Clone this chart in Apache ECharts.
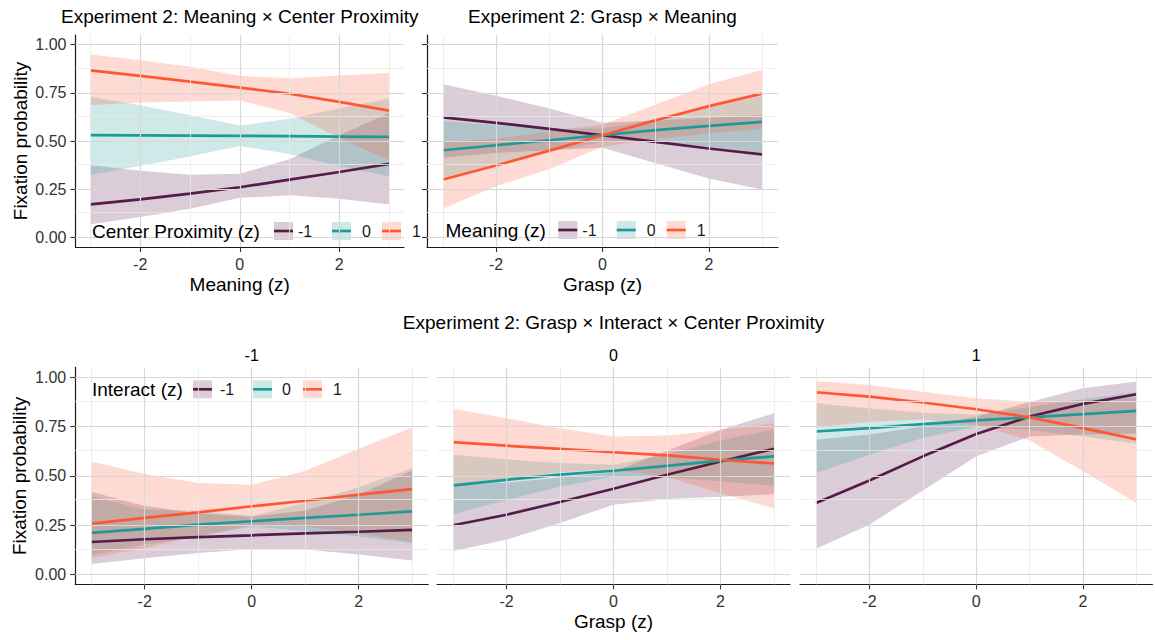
<!DOCTYPE html>
<html><head><meta charset="utf-8">
<script src="https://cdn.jsdelivr.net/npm/echarts@6/dist/echarts.min.js"></script>
<style>html,body{margin:0;padding:0;background:#fff}#chart{width:1155px;height:640px}</style>
</head><body><div id="chart"></div>
<script>
// ---------- categories / ticks ----------
const xs = [-3, -2, -1, 0, 1, 2, 3];
const xTicks = [-2, 0, 2];
const xMinor = [-3, -1, 1, 3];
const yTicks = [0, 0.25, 0.5, 0.75, 1];
const yMinor = [0.125, 0.375, 0.625, 0.875];
const levels = ['-1', '0', '1'];
const levelLabels = ['-1', '0', '1'];

// ---------- text ----------
const panelTitles = ['Experiment 2: Meaning × Center Proximity', 'Experiment 2: Grasp × Meaning', 'Experiment 2: Grasp × Interact × Center Proximity'];
const stripLabels = ['-1', '0', '1'];
const legendTitles = ['Center Proximity (z)', 'Meaning (z)', 'Interact (z)'];
const xNames = ['Meaning (z)', 'Grasp (z)', 'Grasp (z)'];
const yName = 'Fixation probability';

// ---------- panel 1: Meaning x Center Proximity (groups: Center Proximity -1, 0, 1) ----------
const p1FitNeg = [0.171, 0.197, 0.227, 0.260, 0.300, 0.339, 0.381];
const p1LoNeg  = [0.068, 0.106, 0.149, 0.205, 0.218, 0.200, 0.171];
const p1HiNeg  = [0.374, 0.345, 0.325, 0.330, 0.405, 0.530, 0.645];
const p1Fit0   = [0.530, 0.529, 0.528, 0.527, 0.525, 0.523, 0.521];
const p1Lo0    = [0.325, 0.370, 0.420, 0.474, 0.432, 0.370, 0.317];
const p1Hi0    = [0.729, 0.686, 0.634, 0.580, 0.616, 0.668, 0.720];
const p1FitPos = [0.866, 0.838, 0.808, 0.777, 0.745, 0.703, 0.658];
const p1LoPos  = [0.685, 0.700, 0.705, 0.710, 0.645, 0.515, 0.400];
const p1HiPos  = [0.949, 0.919, 0.885, 0.838, 0.825, 0.840, 0.853];

// ---------- panel 2: Grasp x Meaning (groups: Meaning -1, 0, 1) ----------
const p2FitNeg = [0.623, 0.594, 0.563, 0.530, 0.495, 0.461, 0.431];
const p2LoNeg  = [0.413, 0.438, 0.452, 0.465, 0.384, 0.305, 0.248];
const p2HiNeg  = [0.795, 0.735, 0.668, 0.595, 0.606, 0.620, 0.634];
const p2Fit0   = [0.452, 0.478, 0.504, 0.530, 0.556, 0.578, 0.599];
const p2Lo0    = [0.310, 0.376, 0.445, 0.495, 0.497, 0.472, 0.440];
const p2Hi0    = [0.604, 0.582, 0.563, 0.565, 0.614, 0.679, 0.735];
const p2FitPos = [0.300, 0.373, 0.450, 0.530, 0.608, 0.681, 0.746];
const p2LoPos  = [0.149, 0.265, 0.354, 0.470, 0.510, 0.540, 0.562];
const p2HiPos  = [0.495, 0.510, 0.549, 0.585, 0.690, 0.795, 0.870];

// ---------- panel 3: Center Proximity = -1 (groups: Interact -1, 0, 1) ----------
const p3FitNeg = [0.165, 0.179, 0.190, 0.199, 0.209, 0.217, 0.226];
const p3LoNeg  = [0.054, 0.082, 0.109, 0.130, 0.127, 0.102, 0.071];
const p3HiNeg  = [0.420, 0.348, 0.310, 0.293, 0.325, 0.405, 0.527];
const p3Fit0   = [0.211, 0.231, 0.253, 0.270, 0.287, 0.303, 0.320];
const p3Lo0    = [0.098, 0.152, 0.193, 0.244, 0.221, 0.193, 0.160];
const p3Hi0    = [0.396, 0.330, 0.323, 0.297, 0.363, 0.442, 0.540];
const p3FitPos = [0.258, 0.287, 0.315, 0.346, 0.374, 0.405, 0.433];
const p3LoPos  = [0.083, 0.135, 0.196, 0.250, 0.244, 0.209, 0.165];
const p3HiPos  = [0.573, 0.509, 0.464, 0.455, 0.526, 0.637, 0.747];

// ---------- panel 4: Center Proximity = 0 ----------
const p4FitNeg = [0.250, 0.303, 0.368, 0.435, 0.506, 0.573, 0.637];
const p4LoNeg  = [0.118, 0.177, 0.261, 0.354, 0.383, 0.394, 0.407];
const p4HiNeg  = [0.453, 0.466, 0.490, 0.520, 0.628, 0.733, 0.818];
const p4Fit0   = [0.452, 0.480, 0.506, 0.526, 0.551, 0.577, 0.599];
const p4Lo0    = [0.306, 0.377, 0.446, 0.496, 0.492, 0.473, 0.450];
const p4Hi0    = [0.607, 0.584, 0.566, 0.556, 0.609, 0.679, 0.735];
const p4FitPos = [0.671, 0.653, 0.637, 0.620, 0.604, 0.582, 0.563];
const p4LoPos  = [0.443, 0.482, 0.518, 0.533, 0.493, 0.413, 0.335];
const p4HiPos  = [0.840, 0.792, 0.742, 0.700, 0.705, 0.733, 0.767];

// ---------- panel 5: Center Proximity = 1 ----------
const p5FitNeg = [0.363, 0.477, 0.599, 0.712, 0.801, 0.865, 0.914];
const p5LoNeg  = [0.131, 0.253, 0.426, 0.599, 0.700, 0.710, 0.715];
const p5HiNeg  = [0.683, 0.710, 0.750, 0.800, 0.875, 0.944, 0.978];
const p5Fit0   = [0.725, 0.742, 0.762, 0.781, 0.797, 0.813, 0.830];
const p5Lo0    = [0.515, 0.607, 0.693, 0.749, 0.734, 0.700, 0.663];
const p5Hi0    = [0.868, 0.842, 0.820, 0.810, 0.848, 0.890, 0.924];
const p5FitPos = [0.924, 0.902, 0.872, 0.838, 0.797, 0.742, 0.685];
const p5LoPos  = [0.745, 0.775, 0.786, 0.760, 0.680, 0.523, 0.363];
const p5HiPos  = [0.981, 0.961, 0.927, 0.894, 0.876, 0.883, 0.893];

// ---------- styles ----------
const lineColors = ['#561B48', '#1F9A98', '#FF5733'];
const bandColors = ['rgba(86,27,72,0.22)', 'rgba(31,154,152,0.22)', 'rgba(255,87,51,0.22)'];
const FONT = 'Liberation Sans, Arial, sans-serif';

const panelData = [
  [[p1FitNeg, p1LoNeg, p1HiNeg], [p1Fit0, p1Lo0, p1Hi0], [p1FitPos, p1LoPos, p1HiPos]],
  [[p2FitNeg, p2LoNeg, p2HiNeg], [p2Fit0, p2Lo0, p2Hi0], [p2FitPos, p2LoPos, p2HiPos]],
  [[p3FitNeg, p3LoNeg, p3HiNeg], [p3Fit0, p3Lo0, p3Hi0], [p3FitPos, p3LoPos, p3HiPos]],
  [[p4FitNeg, p4LoNeg, p4HiNeg], [p4Fit0, p4Lo0, p4Hi0], [p4FitPos, p4LoPos, p4HiPos]],
  [[p5FitNeg, p5LoNeg, p5HiNeg], [p5Fit0, p5Lo0, p5Hi0], [p5FitPos, p5LoPos, p5HiPos]]
];

// layout
const panels = [
  {grid: {left: 75.5, top: 35, width: 328.5, height: 212}, xName: xNames[0], yName: true, yLine: true, yLabels: true},
  {grid: {left: 427, top: 35, width: 351, height: 212}, xName: xNames[1], yName: false, yLine: true, yLabels: false},
  {grid: {left: 75.2, top: 367.4, width: 353, height: 217}, xName: '', yName: true, yLine: true, yLabels: true},
  {grid: {left: 437, top: 367.4, width: 353, height: 217}, xName: xNames[2], yName: false, yLine: false, yLabels: false},
  {grid: {left: 800, top: 367.4, width: 352.5, height: 217}, xName: '', yName: false, yLine: false, yLabels: false}
];

const grids = [], xAxes = [], yAxes = [], series = [];
const majorStyle = {color: '#D8D8D8', width: 1.2, type: 'solid'};
const minorStyle = {color: '#EAEAEA', width: 0.8, type: 'solid'};

panels.forEach((p, i) => {
  grids.push(Object.assign({containLabel: false}, p.grid));
  xAxes.push({
    type: 'value', gridIndex: i, min: -3.3, max: 3.3,
    splitLine: {show: false},
    axisLine: {show: true, onZero: false, lineStyle: {color: '#1a1a1a', width: 1.2}},
    axisTick: {show: true, customValues: xTicks, length: 5, lineStyle: {color: '#333', width: 1.1}},
    axisLabel: {show: true, customValues: xTicks, margin: 9, fontSize: 16, color: '#333', fontFamily: FONT,
      formatter: v => String(v)},
    name: p.xName, nameLocation: 'middle', nameGap: 28,
    nameTextStyle: {fontSize: 19, color: '#000', fontFamily: FONT}
  });
  yAxes.push({
    type: 'value', gridIndex: i, min: -0.05, max: 1.05,
    splitLine: {show: false},
    axisLine: {show: p.yLine, onZero: false, lineStyle: {color: '#1a1a1a', width: 1.2}},
    axisTick: {show: p.yLine, customValues: yTicks, length: 5, lineStyle: {color: '#333', width: 1.1}},
    axisLabel: {show: p.yLabels, customValues: yTicks, margin: 9, fontSize: 16, color: '#333', fontFamily: FONT,
      formatter: v => v.toFixed(2)},
    name: p.yName ? yName : '', nameLocation: 'middle', nameGap: 46,
    nameTextStyle: {fontSize: 19, color: '#000', fontFamily: FONT}
  });
  // gridlines through the axes' scales
  series.push({
    type: 'line', xAxisIndex: i, yAxisIndex: i, data: [], silent: true, z: 0,
    markLine: {
      silent: true, symbol: ['none', 'none'], label: {show: false}, animation: false,
      emphasis: {disabled: true},
      data: [
        ...xMinor.map(v => ({xAxis: v, lineStyle: minorStyle})),
        ...yMinor.map(v => ({yAxis: v, lineStyle: minorStyle})),
        ...xTicks.map(v => ({xAxis: v, lineStyle: majorStyle})),
        ...yTicks.map(v => ({yAxis: v, lineStyle: majorStyle}))
      ]
    }
  });
  // ribbons
  panelData[i].forEach((grp, g) => {
    const lo = grp[1], hi = grp[2];
    series.push({
      type: 'custom', name: 'band' + levels[g], xAxisIndex: i, yAxisIndex: i, z: 2, silent: true, clip: false,
      data: xs.map((x, k) => [x, lo[k], hi[k]]),
      encode: {x: 0, y: [1, 2]},
      renderItem: (params, api) => {
        if (params.dataIndex !== 0) return null;
        const up = xs.map((x, k) => api.coord([x, hi[k]]));
        const dn = xs.map((x, k) => api.coord([x, lo[k]])).reverse();
        return {type: 'polygon', shape: {points: up.concat(dn)}, style: {fill: bandColors[g], stroke: null}};
      }
    });
  });
  // fitted lines
  panelData[i].forEach((grp, g) => {
    series.push({
      type: 'line', name: levels[g], xAxisIndex: i, yAxisIndex: i, z: 4, silent: true,
      data: xs.map((x, k) => [x, grp[0][k]]),
      showSymbol: false, symbol: 'none',
      lineStyle: {color: lineColors[g], width: 2.7}, itemStyle: {color: lineColors[g]},
      emphasis: {disabled: true}
    });
  });
});

// ---------- titles ----------
const titles = [
  {text: panelTitles[0], left: 239.7, top: 6.5, textAlign: 'center', size: 19},
  {text: panelTitles[1], left: 602.5, top: 6.5, textAlign: 'center', size: 19},
  {text: panelTitles[2], left: 613.5, top: 312.5, textAlign: 'center', size: 19},
  {text: stripLabels[0], left: 251.7, top: 347.5, textAlign: 'center', size: 16},
  {text: stripLabels[1], left: 613.5, top: 347.5, textAlign: 'center', size: 16},
  {text: stripLabels[2], left: 976.2, top: 347.5, textAlign: 'center', size: 16},
  {text: legendTitles[0], left: 92, top: 221.5, textAlign: 'left', size: 19},
  {text: legendTitles[1], left: 445.5, top: 220.5, textAlign: 'left', size: 19},
  {text: legendTitles[2], left: 92, top: 379.5, textAlign: 'left', size: 19}
].map(t => ({
  text: t.text, left: t.left, top: t.top, textAlign: t.textAlign, padding: 0, itemGap: 0,
  textStyle: {fontSize: t.size, fontWeight: 'normal', color: '#000', fontFamily: FONT}
}));

// ---------- legends (key = ribbon rectangle + line) ----------
const legendSpots = [
  {cy: 231, keys: [274, 332, 382], pads: [0, 6, 6]},
  {cy: 230, keys: [558.3, 616.7, 666.7], pads: [0, 6, 6]},
  {cy: 389.3, keys: [193, 253, 303], pads: [3, 5, 6]}
];
const legends = [];
legendSpots.forEach(s => {
  s.keys.forEach((left, g) => {
    legends.push({
      show: true, left: left, top: s.cy - 9, orient: 'horizontal', padding: 0, itemGap: 0,
      icon: 'rect', itemWidth: 19, itemHeight: 18, selectedMode: false,
      data: [{name: 'band' + levels[g], itemStyle: {color: bandColors[g]}}],
      formatter: () => levelLabels[g],
      textStyle: {fontSize: 16, color: '#1a1a1a', fontFamily: FONT, padding: [0, 0, 0, s.pads[g]]}
    });
    legends.push({
      show: true, left: left, top: s.cy - 1.35, orient: 'horizontal', padding: 0, itemGap: 0,
      icon: 'rect', itemWidth: 19, itemHeight: 2.7, selectedMode: false,
      data: [{name: levels[g], itemStyle: {color: lineColors[g]}}],
      formatter: () => ' ',
      textStyle: {fontSize: 1, color: 'rgba(0,0,0,0)'}
    });
  });
});

const chart = echarts.init(document.getElementById('chart'), null, {renderer: 'svg', width: 1155, height: 640});
chart.setOption({
  animation: false,
  backgroundColor: '#fff',
  textStyle: {fontFamily: FONT},
  title: titles,
  legend: legends,
  grid: grids,
  xAxis: xAxes,
  yAxis: yAxes,
  series: series
});
</script>
</body></html>
